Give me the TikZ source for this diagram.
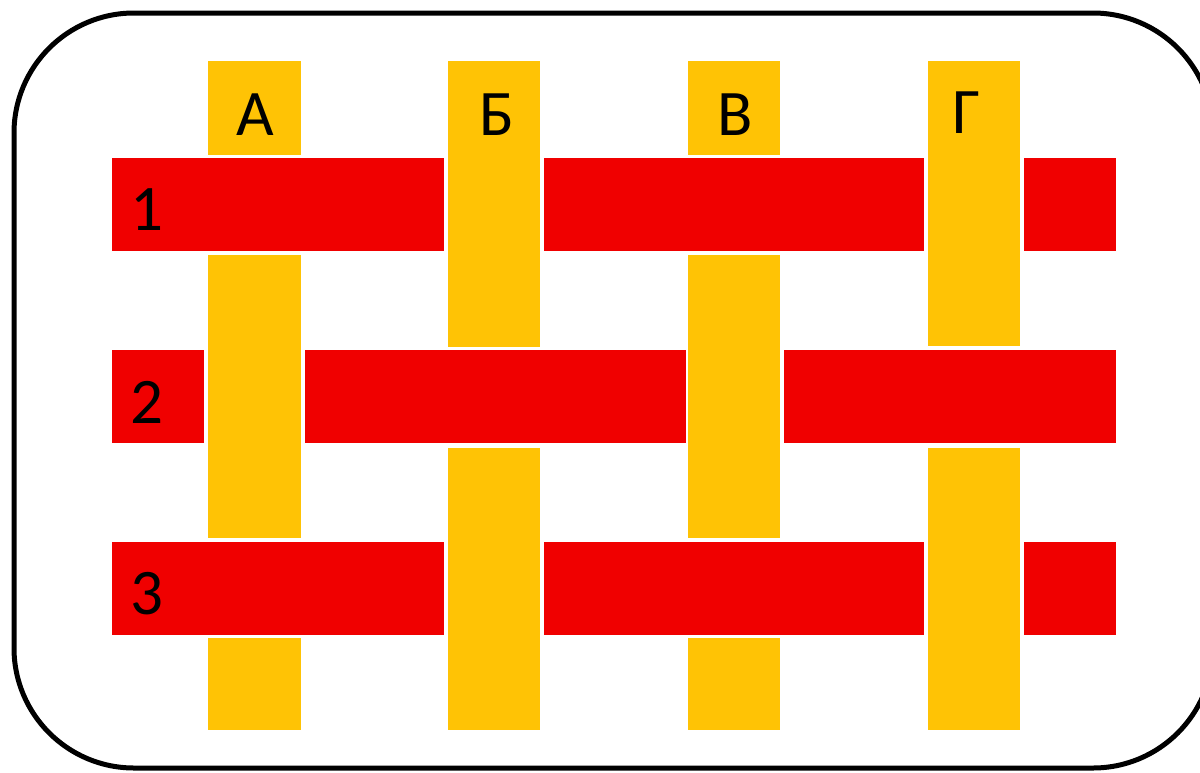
\documentclass[tikz,border=0pt]{standalone}
\usepackage{fontspec}
\setmainfont{Carlito}
\usepackage{xcolor}
\definecolor{weftred}{HTML}{F00000}
\definecolor{warpgold}{HTML}{FFC305}

\begin{document}
\begin{tikzpicture}[
      x=0.5pt, y=-0.5pt,
      warp/.style={fill=warpgold, draw=white, line width=0.5pt},
      weft/.style={fill=weftred, draw=white, line width=0.5pt},
      lbl/.style={font=\fontsize{32.5}{39}\selectfont, inner sep=0pt},
    ]
    \useasboundingbox (0,0) rectangle (1200,772);
    \clip (0,0) rectangle (1200,772);
    \draw[line width=2.5pt, rounded corners=60pt] (14,13) rectangle (1213,768);

    % warp column A
    \filldraw[warp] (207,60) rectangle (301,155);
    \filldraw[warp] (207,254) rectangle (301,538);
    \filldraw[warp] (207,637) rectangle (301,730);
    % warp column B
    \filldraw[warp] (447,60) rectangle (540,347);
    \filldraw[warp] (447,447) rectangle (540,730);
    % warp column V
    \filldraw[warp] (687,60) rectangle (780,155);
    \filldraw[warp] (687,254) rectangle (780,538);
    \filldraw[warp] (687,637) rectangle (780,730);
    % warp column G
    \filldraw[warp] (927,60) rectangle (1020,346);
    \filldraw[warp] (927,447) rectangle (1020,730);

    % weft row 1
    \filldraw[weft] (111,157) rectangle (444,251);
    \filldraw[weft] (543,157) rectangle (924,251);
    \filldraw[weft] (1023,157) rectangle (1116,251);
    % weft row 2
    \filldraw[weft] (111,349) rectangle (204,443);
    \filldraw[weft] (304,349) rectangle (686,443);
    \filldraw[weft] (783,349) rectangle (1116,443);
    % weft row 3
    \filldraw[weft] (111,541) rectangle (444,635);
    \filldraw[weft] (543,541) rectangle (924,635);
    \filldraw[weft] (1023,541) rectangle (1116,635);

    \node[lbl] (colA) at (255,115) {А};
    \node[lbl] (colB) at (497,115) {Б};
    \node[lbl] (colV) at (735,115) {В};
    \node[lbl] (colG) at (966,113) {Г};
    \node[lbl] (row1) at (147,210) {1};
    \node[lbl] (row2) at (147,402) {2};
    \node[lbl] (row3) at (147,594) {3};
  \end{tikzpicture}
\end{document}
